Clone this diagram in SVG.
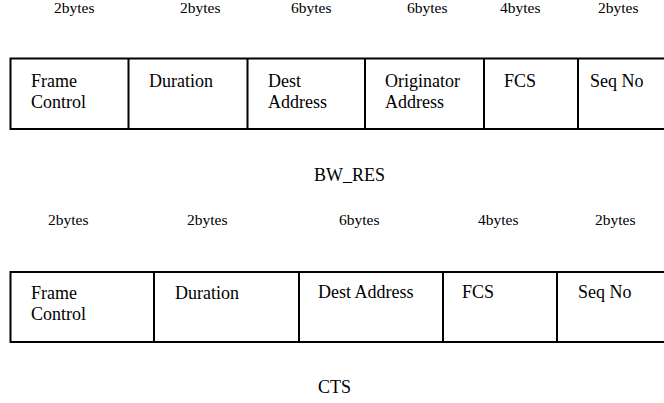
<svg xmlns="http://www.w3.org/2000/svg" width="664" height="403" viewBox="0 0 664 403">
<rect x="0" y="0" width="664" height="403" fill="#fff"/>
<g id="bw_res" font-family="Liberation Serif" fill="#000">
  <g id="bw_res_sizes" font-size="15.5">
    <text x="54" y="12.5">2bytes</text>
    <text x="180" y="12.5">2bytes</text>
    <text x="291" y="12.5">6bytes</text>
    <text x="407" y="12.5">6bytes</text>
    <text x="500" y="12.5">4bytes</text>
    <text x="598" y="12.5">2bytes</text>
  </g>
  <g id="bw_res_frame">
    <path stroke="#000" stroke-width="2" fill="none" d="M10.5,58.5 H665 M10.5,129 H665 M10.5,57.5 V130 M128.5,58.5 V129 M247.5,58.5 V129 M365,58.5 V129 M484,58.5 V129 M578,58.5 V129"/>
  </g>
  <g font-size="18">
  <g id="bw_frame_control"><text x="31" y="87">Frame</text><text x="31" y="107.5">Control</text></g>
  <g id="bw_duration"><text x="149" y="87">Duration</text></g>
  <g id="bw_dest"><text x="268" y="87">Dest</text><text x="268" y="107.5">Address</text></g>
  <g id="bw_orig"><text x="385" y="87">Originator</text><text x="385" y="107.5">Address</text></g>
  <g id="bw_fcs"><text x="504" y="87">FCS</text></g>
  <g id="bw_seq"><text x="590" y="87">Seq No</text></g>
  <text x="314" y="181">BW_RES</text>
  </g>
</g>
<g id="cts" font-family="Liberation Serif" fill="#000">
  <g id="cts_sizes" font-size="15.5">
    <text x="48" y="225">2bytes</text>
    <text x="187" y="225">2bytes</text>
    <text x="339" y="225">6bytes</text>
    <text x="478" y="225">4bytes</text>
    <text x="595" y="225">2bytes</text>
  </g>
  <g id="cts_frame">
    <path stroke="#000" stroke-width="2" fill="none" d="M10.5,272 H665 M10.5,342 H665 M10.5,271 V343 M154,272 V342 M299,272 V342 M443,272 V342 M557,272 V342"/>
  </g>
  <g font-size="18">
  <g id="cts_frame_control"><text x="31" y="299">Frame</text><text x="31" y="320">Control</text></g>
  <g id="cts_duration"><text x="175" y="299">Duration</text></g>
  <g id="cts_dest"><text x="318" y="298">Dest Address</text></g>
  <g id="cts_fcs"><text x="462" y="298">FCS</text></g>
  <g id="cts_seq"><text x="578" y="298">Seq No</text></g>
  <text x="318" y="393">CTS</text>
  </g>
</g>
</svg>
